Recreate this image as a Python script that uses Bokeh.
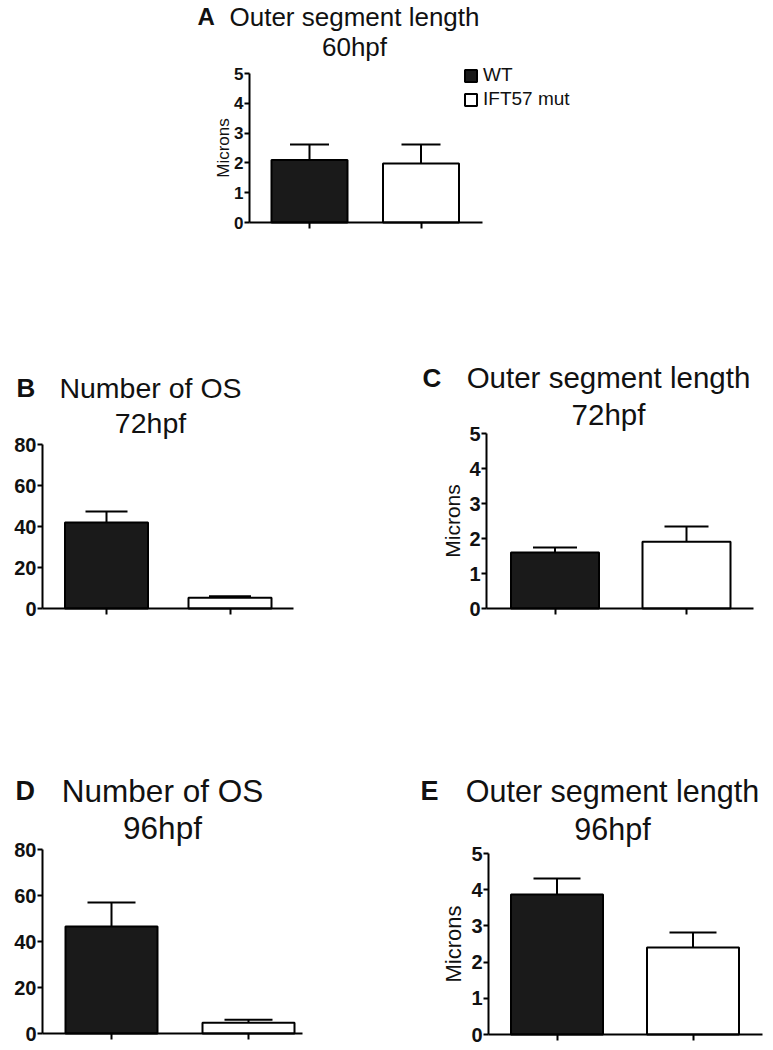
from bokeh.plotting import figure
from bokeh.models import (Range1d, FixedTicker, Label, Whisker, TeeHead,
                          ColumnDataSource, Legend, LegendItem, Spacer)
from bokeh.layouts import column, row
from bokeh.embed import file_html
from bokeh.resources import INLINE

# ---------------- data ----------------
groups = ["WT", "IFT57 mut"]
positions = [1, 2]

a_mean = [2.10, 1.98]   # Outer segment length 60hpf (microns)
a_sem = [0.52, 0.64]
b_mean = [42.0, 5.2]    # Number of OS 72hpf
b_sem = [5.3, 0.8]
c_mean = [1.60, 1.91]   # Outer segment length 72hpf (microns)
c_sem = [0.14, 0.43]
d_mean = [46.5, 4.7]    # Number of OS 96hpf
d_sem = [10.5, 1.3]
e_mean = [3.87, 2.40]   # Outer segment length 96hpf (microns)
e_sem = [0.44, 0.42]

length_ticks = [0, 1, 2, 3, 4, 5]
count_ticks = [0, 20, 40, 60, 80]

fills = ["#1a1a1a", "#ffffff"]
FONT = "Liberation Sans"
INK = "#111111"
TITLE_SHIFT = -8


def panel(mean, sem, ticks, letter, title1, title2, g):
    left, top, W, H = g["canvas"]
    c1, c2 = g["centers"]
    sx = c2 - c1
    x_start = 1 - (c1 - left) / sx
    x_end = x_start + W / sx
    ymax = ticks[-1]
    sy = (g["y0"] - g["ytop"]) / ymax
    y_start = -((top + H) - g["y0"]) / sy
    y_end = y_start + H / sy
    x_lo = 1 - (c1 - g["ax"]) / sx
    x_hi = 1 + (g["axend"] - c1) / sx

    p = figure(output_backend="svg", toolbar_location=None, width=W, height=H,
               x_range=Range1d(x_start, x_end), y_range=Range1d(y_start, y_end),
               min_border=0, min_border_left=0, min_border_right=0,
               min_border_top=0, min_border_bottom=0)
    p.outline_line_color = None
    p.xgrid.visible = False
    p.ygrid.visible = False
    p.background_fill_color = "white"
    p.border_fill_color = "white"

    src = ColumnDataSource(dict(
        x=positions, top=mean,
        upper=[m + s for m, s in zip(mean, sem)],
        fill=fills, group=groups))
    r = p.vbar(x="x", top="top", bottom=0, width=g["bw"] / sx, source=src,
               fill_color="fill", line_color="black", line_width=2)
    wh = Whisker(base="x", lower="top", upper="upper", source=src,
                 line_color="black", line_width=2,
                 upper_head=TeeHead(size=g["cap"], line_color="black", line_width=2),
                 lower_head=None)
    p.add_layout(wh)

    ya = p.yaxis[0]
    ya.fixed_location = x_lo
    ya.bounds = (0, ymax)
    ya.ticker = FixedTicker(ticks=ticks)
    ya.minor_tick_line_color = None
    ya.major_tick_in = 0
    ya.major_tick_out = 5
    ya.major_tick_line_width = 2
    ya.axis_line_width = 2
    ya.major_label_standoff = 1
    ya.major_label_text_font = FONT
    ya.major_label_text_font_style = "bold"
    ya.major_label_text_font_size = g["tick_fs"]
    ya.major_label_text_color = INK
    if g.get("ylabel"):
        ya.axis_label = g["ylabel"]
        ya.axis_label_text_font = FONT
        ya.axis_label_text_font_style = "normal"
        ya.axis_label_text_font_size = g["ylabel_fs"]
        ya.axis_label_standoff = g["ylabel_so"]
        ya.axis_label_text_color = INK

    xa = p.xaxis[0]
    xa.fixed_location = 0
    xa.bounds = (x_lo, x_hi)
    xa.ticker = FixedTicker(ticks=positions)
    xa.minor_tick_line_color = None
    xa.major_tick_in = 0
    xa.major_tick_out = 6
    xa.major_tick_line_width = 2
    xa.axis_line_width = 2
    xa.major_label_text_color = None

    def lab(text, x, y, size, bold=False, align="left"):
        p.add_layout(Label(x=x - left, y=top + H - (y + TITLE_SHIFT),
                           x_units="screen", y_units="screen",
                           text=text, text_font=FONT,
                           text_font_style="bold" if bold else "normal",
                           text_font_size=size, text_align=align,
                           text_baseline="alphabetic", text_color=INK))

    lab(letter, g["lx"], g["y1"], g["letter_fs"], bold=True)
    lab(title1, g["cx"], g["y1"], g["title_fs"], align="center")
    lab(title2, g["cx"], g["y2"], g["title_fs"], align="center")
    return p, r


# panel A (all geometry in page pixels)
pa, ra = panel(a_mean, a_sem, length_ticks, "A", "Outer segment length", "60hpf",
               dict(canvas=(180, 0, 420, 250), centers=(309, 420.5), ax=249, axend=482,
                    y0=222, ytop=73, bw=76, cap=39, tick_fs="17px",
                    ylabel="Microns", ylabel_fs="17px", ylabel_so=-2,
                    lx=197, cx=354, y1=24, y2=54, letter_fs="24px", title_fs="26px"))
legend = Legend(items=[LegendItem(label=groups[0], renderers=[ra], index=0),
                       LegendItem(label=groups[1], renderers=[ra], index=1)],
                location=(463 - 180, 250 - 110), glyph_width=15, glyph_height=15,
                label_standoff=5, spacing=2, padding=0, margin=0,
                border_line_color=None, background_fill_alpha=0,
                label_text_font=FONT, label_text_font_size="19px",
                label_text_color=INK)
pa.add_layout(legend)

pb, _ = panel(b_mean, b_sem, count_ticks, "B", "Number of OS", "72hpf",
              dict(canvas=(0, 350, 408, 282), centers=(106, 229.5), ax=42, axend=293,
                   y0=608, ytop=444, bw=83, cap=42, tick_fs="20px",
                   lx=16, cx=150, y1=395, y2=430, letter_fs="26px", title_fs="28.5px"))

pc, _ = panel(c_mean, c_sem, length_ticks, "C", "Outer segment length", "72hpf",
              dict(canvas=(408, 350, 365, 282), centers=(554.5, 686), ax=486, axend=753,
                   y0=608, ytop=433, bw=88, cap=44, tick_fs="20px",
                   ylabel="Microns", ylabel_fs="21px", ylabel_so=2,
                   lx=422, cx=608, y1=385, y2=422, letter_fs="26px", title_fs="29.5px"))

pd_, _ = panel(d_mean, d_sem, count_ticks, "D", "Number of OS", "96hpf",
               dict(canvas=(0, 762, 408, 284), centers=(111, 248), ax=42, axend=302,
                    y0=1033, ytop=849, bw=92, cap=48, tick_fs="20px",
                    lx=15, cx=162, y1=798, y2=835, letter_fs="27px", title_fs="31.5px"))

pe, _ = panel(e_mean, e_sem, length_ticks, "E", "Outer segment length", "96hpf",
              dict(canvas=(408, 762, 365, 284), centers=(556.5, 692.5), ax=488, axend=762,
                   y0=1034, ytop=853, bw=92, cap=47, tick_fs="20px",
                   ylabel="Microns", ylabel_fs="22px", ylabel_so=2,
                   lx=420, cx=612, y1=798, y2=836, letter_fs="27px", title_fs="30.5px"))

layout = column(
    row(Spacer(width=180, height=250), pa),
    Spacer(width=10, height=100),
    row(pb, pc),
    Spacer(width=10, height=130),
    row(pd_, pe),
)

open("out.html", "w").write(file_html(layout, INLINE))
